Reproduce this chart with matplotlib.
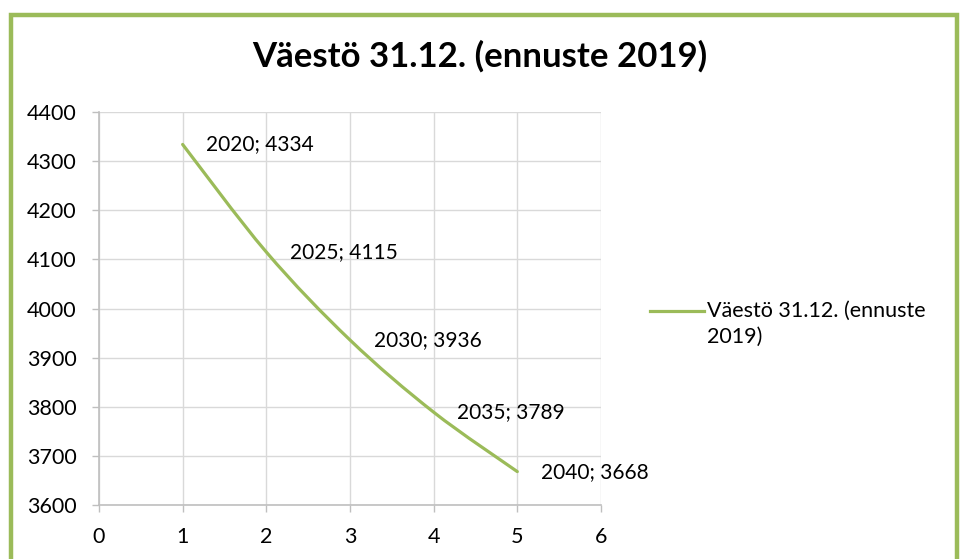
import numpy as np
import matplotlib
matplotlib.use("Agg")
import matplotlib.pyplot as plt
from matplotlib.path import Path
from matplotlib.patches import PathPatch, Rectangle
from matplotlib.lines import Line2D

# data
x_pos = [1, 2, 3, 4, 5]
years = [2020, 2025, 2030, 2035, 2040]
population = [4334, 4115, 3936, 3789, 3668]
series_name = "Väestö 31.12. (ennuste\n2019)"
title = "Väestö 31.12. (ennuste 2019)"

GREEN = "#9BBB59"
plt.rcParams["font.family"] = ["Lato", "DejaVu Sans"]

fig = plt.figure(figsize=(9.6, 5.59), dpi=100)
ax = fig.add_axes([0.1031, 0.0966, 0.5229, 0.703])

# smoothed line (Excel style) as cubic bezier through the points
xs = np.array(x_pos, dtype=float)
ys = np.array(population, dtype=float)
verts = [(xs[0], ys[0])]
codes = [Path.MOVETO]
t = 1 / 6
for i in range(len(xs) - 1):
    p0 = (xs[i - 1], ys[i - 1]) if i > 0 else (xs[i], ys[i])
    p1 = (xs[i], ys[i])
    p2 = (xs[i + 1], ys[i + 1])
    p3 = (xs[i + 2], ys[i + 2]) if i + 2 < len(xs) else p2
    c1 = (p1[0] + (p2[0] - p0[0]) * t, p1[1] + (p2[1] - p0[1]) * t)
    c2 = (p2[0] - (p3[0] - p1[0]) * t, p2[1] - (p3[1] - p1[1]) * t)
    verts += [c1, c2, p2]
    codes += [Path.CURVE4] * 3
ax.add_patch(PathPatch(Path(verts, codes), facecolor="none", edgecolor=GREEN,
                       lw=2.3, capstyle="round"))

for xv, yr, val in zip(x_pos, years, population):
    ax.annotate(f"{yr}; {val}", (xv, val), xytext=(17, 0), textcoords="offset points",
                ha="left", va="center", fontsize=15, color="black")

ax.set_xlim(0, 6)
ax.set_ylim(3600, 4400)
ax.set_xticks(range(0, 7))
ax.set_yticks(range(3600, 4401, 100))
ax.grid(True, color="#d9d9d9", lw=1)
ax.set_axisbelow(True)
for s in ["top", "right"]:
    ax.spines[s].set_visible(False)
for s in ["left", "bottom"]:
    ax.spines[s].set_color("#bfbfbf")
    ax.spines[s].set_linewidth(1.2)
ax.tick_params(axis="both", colors="#bfbfbf", labelcolor="black", labelsize=15.5,
               length=5, width=1)
ax.tick_params(axis="y", pad=11)
ax.tick_params(axis="x", pad=11)

fig.text(0.5, 0.9, title, ha="center", va="center", fontsize=25, fontweight="bold")

# legend
leg_line = Line2D([0.677, 0.733], [0.444, 0.444], transform=fig.transFigure,
                  color=GREEN, lw=2.3)
fig.add_artist(leg_line)
fig.text(0.736, 0.386, series_name, ha="left", va="baseline", fontsize=15.5,
         linespacing=1.4, transform=fig.transFigure)

# chart border
fig.add_artist(Rectangle((11 / 960, -0.05), 946 / 960, 1 - 14.5 / 559 + 0.05,
                         transform=fig.transFigure, fill=False, edgecolor=GREEN,
                         lw=3.2, clip_on=False))

fig.savefig("out.png", dpi=100)
